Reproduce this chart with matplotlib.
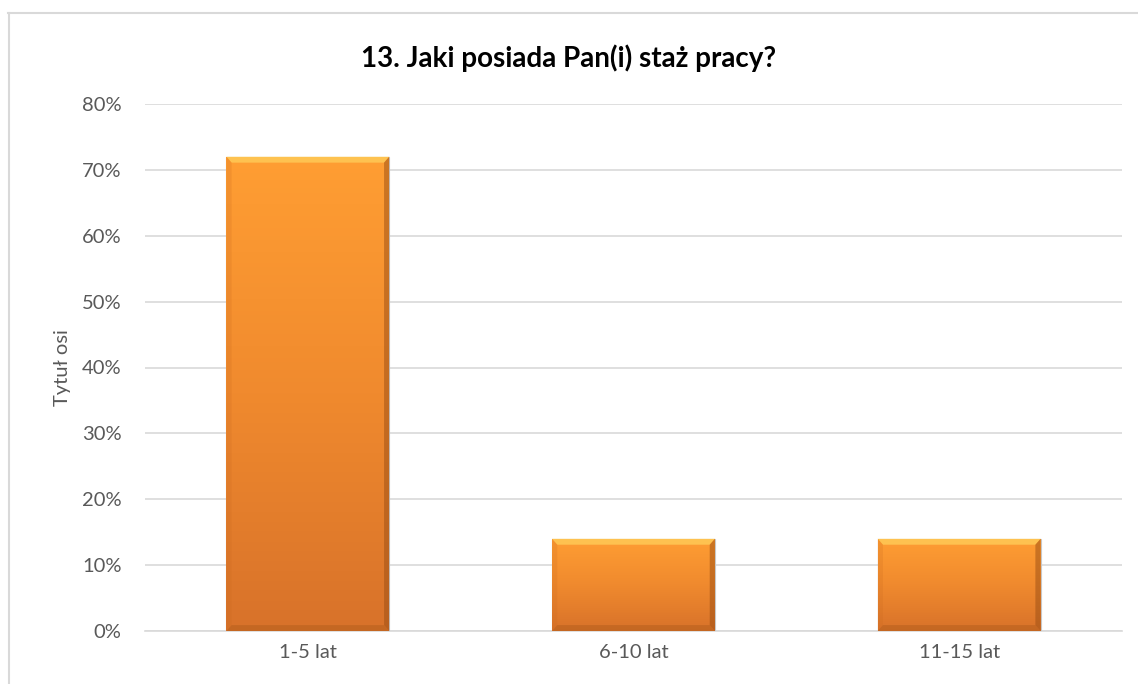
import numpy as np
import matplotlib
matplotlib.use("Agg")
from matplotlib import pyplot as plt
from matplotlib.patches import Rectangle, Polygon
from matplotlib.ticker import PercentFormatter
from matplotlib.colors import LinearSegmentedColormap

categories = ['1-5 lat', '6-10 lat', '11-15 lat']
values = [72, 14, 14]
title = '13. Jaki posiada Pan(i) staż pracy?'
ylabel = 'Tytuł osi'

plt.rcParams['font.family'] = ['Lato', 'DejaVu Sans']
txt = '#595959'

fig = plt.figure(figsize=(11.38, 6.84), dpi=100)
ax = fig.add_axes([145 / 1138, 1 - 631 / 684, (1122 - 145) / 1138, (631 - 104) / 684])

# chart border (top and left visible)
fig.add_artist(plt.Line2D([8 / 1138, 1], [1 - 12.5 / 684] * 2, color='#D9D9D9', lw=1.5))
fig.add_artist(plt.Line2D([8.5 / 1138] * 2, [0, 1 - 12.5 / 684], color='#D9D9D9', lw=1.5))

x = np.arange(len(categories))
w = 0.5
ax.set_xlim(-0.5, len(categories) - 0.5)
ax.set_ylim(0, 80)

cmap = LinearSegmentedColormap.from_list('og', ['#D8722A', '#F08A2E', '#FF9E33'])
grad = np.linspace(0, 1, 256).reshape(-1, 1)

bars = ax.bar(x, values, width=w, color='none', zorder=3)
for b in bars:
    x0, y0, bw, bh = b.get_x(), b.get_y(), b.get_width(), b.get_height()
    im = ax.imshow(grad, extent=[x0, x0 + bw, y0, y0 + bh], origin='lower', cmap=cmap,
                   aspect='auto', zorder=3)
    clip = Rectangle((x0, y0), bw, bh, transform=ax.transData)
    im.set_clip_path(clip)
    # bevel: top highlight, sides darker, bottom darker
    dx = 0.016
    dy = 0.9
    ax.add_patch(Polygon([(x0, y0 + bh), (x0 + bw, y0 + bh), (x0 + bw - dx, y0 + bh - dy),
                          (x0 + dx, y0 + bh - dy)], color='#FFD35E', alpha=0.7, lw=0, zorder=4))
    ax.add_patch(Polygon([(x0, y0), (x0 + dx, y0 + dy), (x0 + dx, y0 + bh - dy), (x0, y0 + bh)],
                         color='#C8681E', alpha=0.2, lw=0, zorder=4))
    ax.add_patch(Polygon([(x0 + bw, y0), (x0 + bw - dx, y0 + dy), (x0 + bw - dx, y0 + bh - dy),
                          (x0 + bw, y0 + bh)], color='#9A4E14', alpha=0.5, lw=0, zorder=4))
    ax.add_patch(Polygon([(x0, y0), (x0 + bw, y0), (x0 + bw - dx, y0 + dy), (x0 + dx, y0 + dy)],
                         color='#A85818', alpha=0.4, lw=0, zorder=4))
    ax.add_patch(Rectangle((x0, y0), bw, bh, fill=False, ec='#C8C8C8', lw=0.8, zorder=2.9))

ax.set_xticks(x)
ax.set_xticklabels(categories)
ax.set_yticks(np.arange(0, 81, 10))
ax.yaxis.set_major_formatter(PercentFormatter(decimals=0))
ax.grid(axis='y', color='#D9D9D9', lw=1.2, zorder=0)
ax.set_axisbelow(True)
for s in ['top', 'right', 'left']:
    ax.spines[s].set_visible(False)
ax.spines['bottom'].set_color('#D9D9D9')
ax.spines['bottom'].set_linewidth(1.2)
ax.tick_params(axis='both', length=0, labelsize=14.5, colors=txt)
ax.tick_params(axis='x', pad=9)
ax.tick_params(axis='y', pad=17)
ax.set_ylabel(ylabel, fontsize=14.5, color=txt, labelpad=8)
fig.text(0.5, 1 - 58 / 684, title, ha='center', va='center', fontsize=20,
         fontweight='bold', color='#000000')

fig.savefig('out.png', dpi=100)
